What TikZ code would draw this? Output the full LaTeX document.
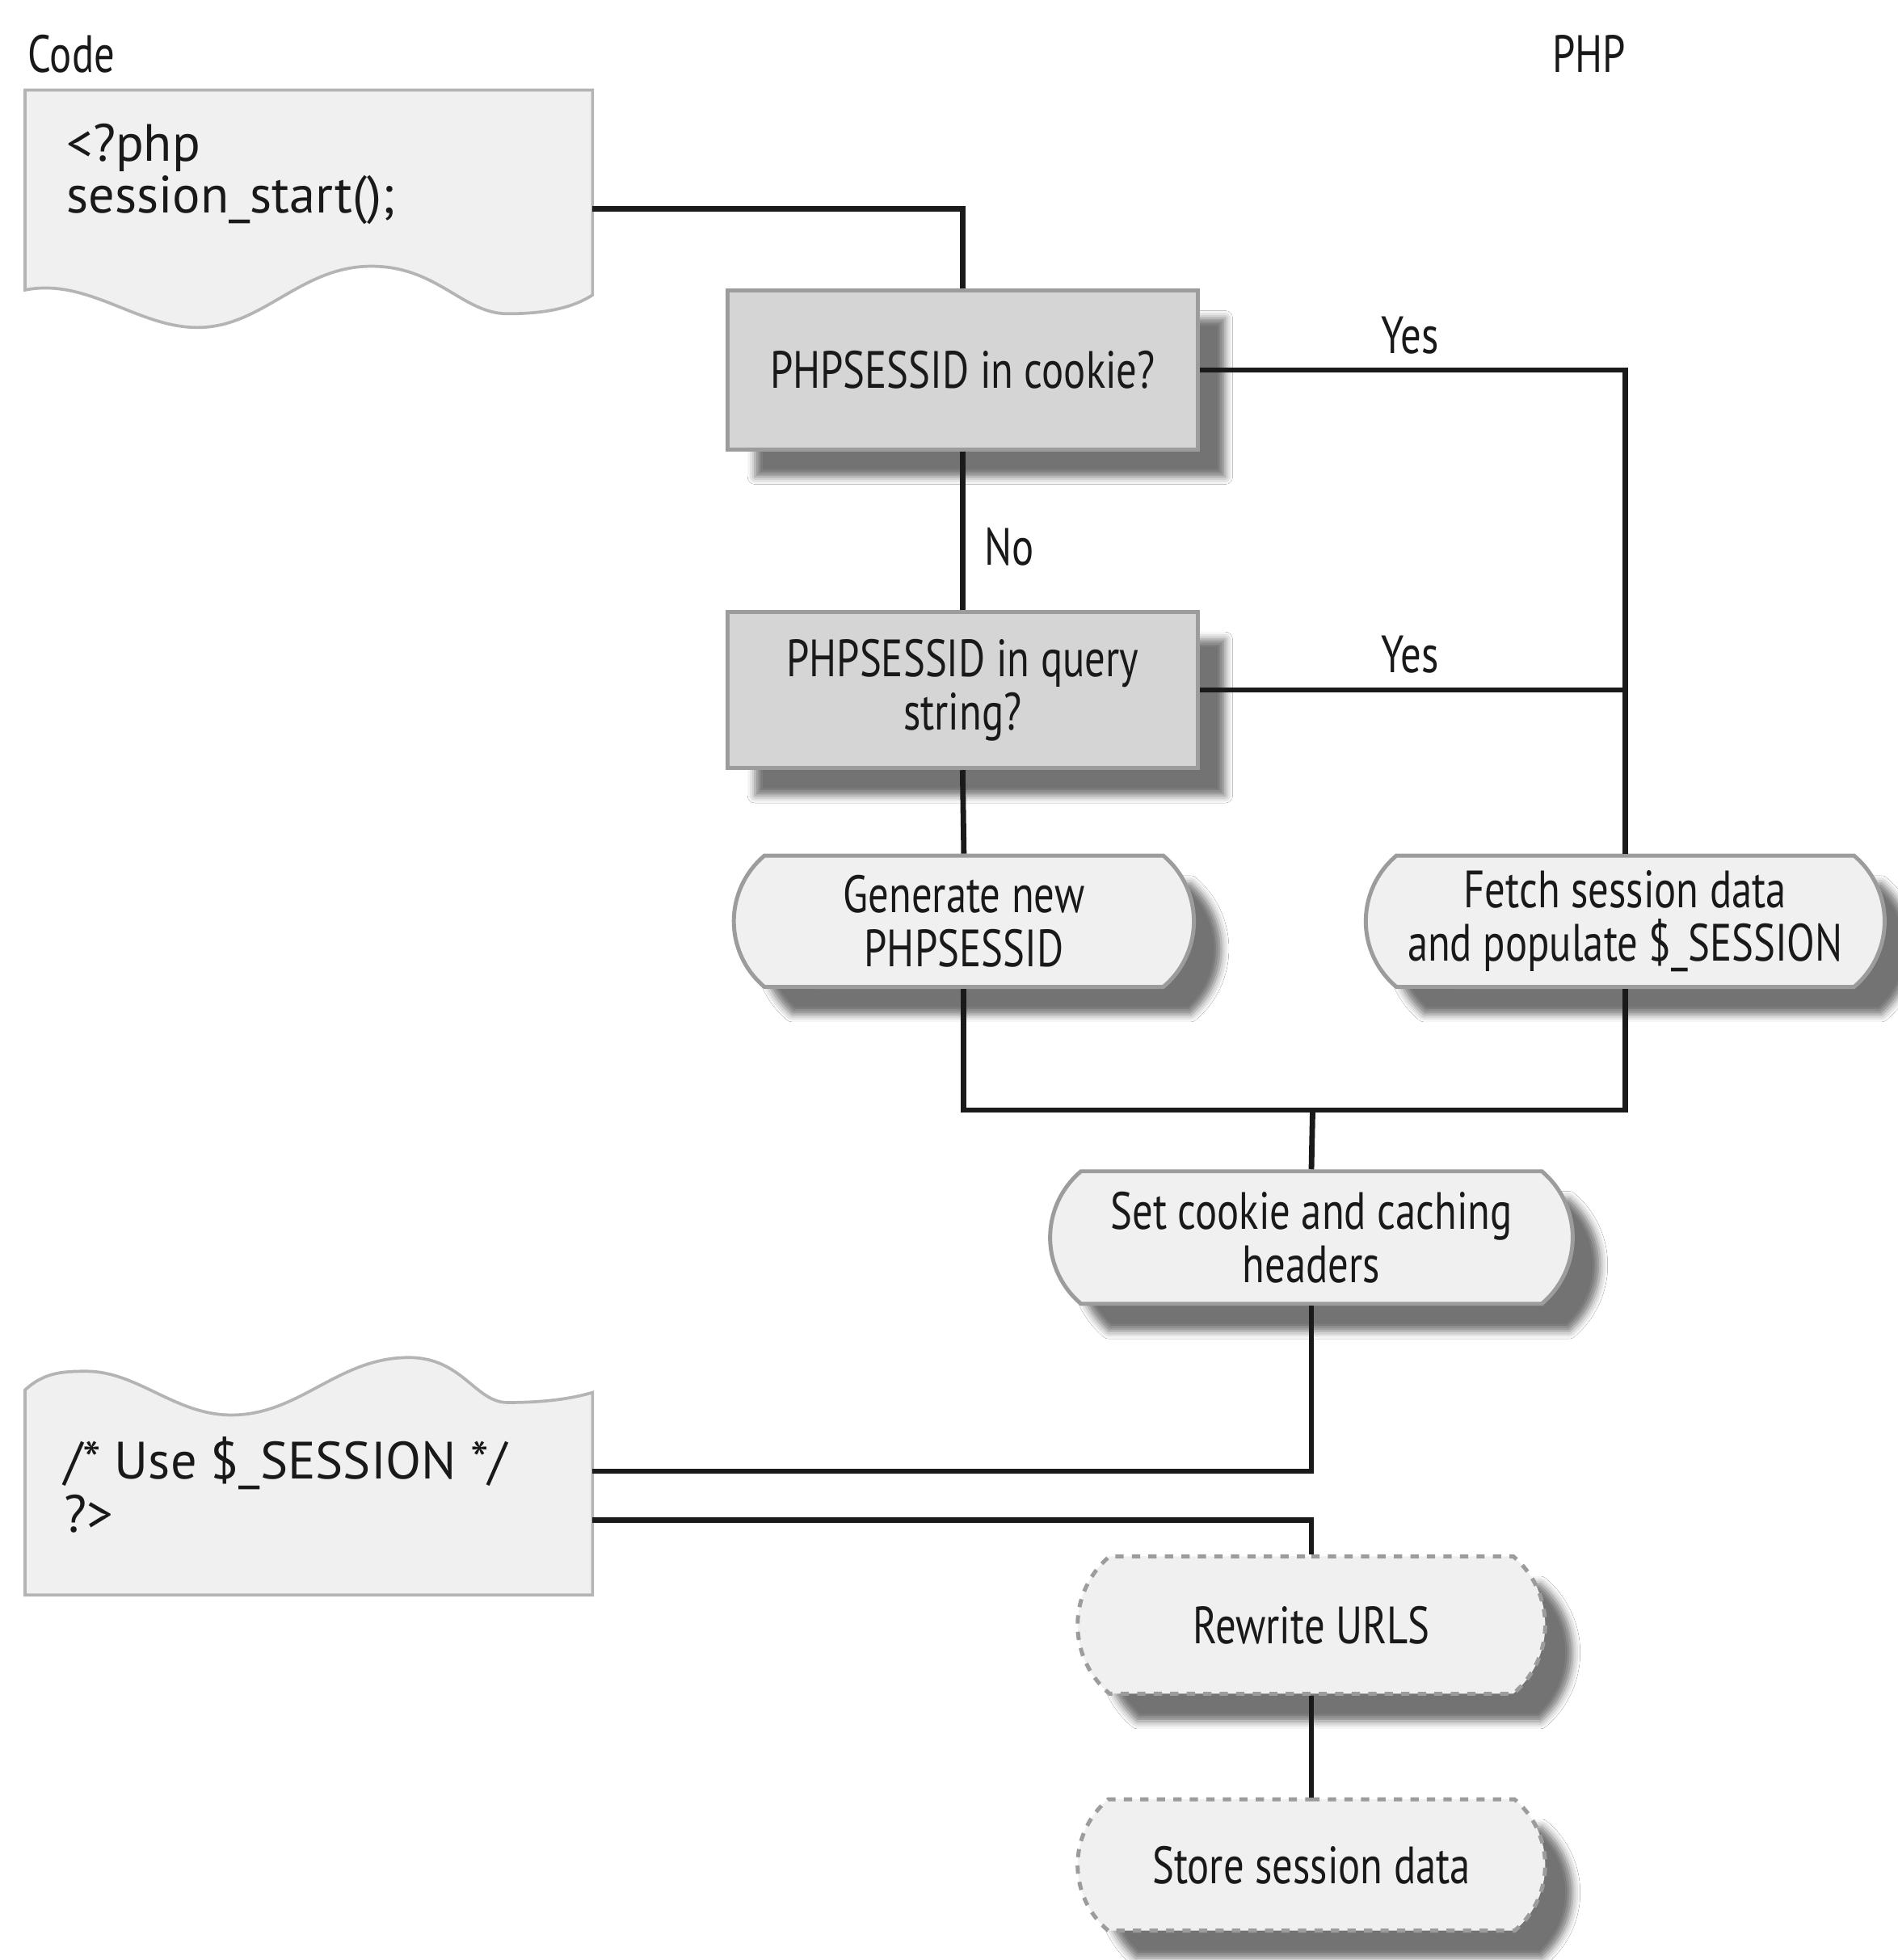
\documentclass[tikz,border=0pt]{standalone}
\usepackage{fontspec}
\setmainfont{PT Sans}
\newfontfamily\condfont{PT Sans}[FakeStretch=0.78]
\newfontfamily\codefont{PT Sans}[FakeStretch=0.99]
\usetikzlibrary{shapes.misc,shadows.blur}
\definecolor{decfill}{HTML}{D5D5D5}
\definecolor{lightfill}{HTML}{F0F0F0}
\definecolor{bordgray}{HTML}{9C9C9C}
\definecolor{codeborder}{HTML}{B4B4B4}
\definecolor{inkline}{HTML}{1A1A1A}
\tikzset{
  conn/.style={line width=2.2pt, draw=inkline},
  shad/.style={blur shadow={shadow xshift=11pt, shadow yshift=-11pt, shadow blur radius=3pt, shadow opacity=55}},
  nodetext/.style={font=\condfont\fontsize{21}{21.5}\selectfont, text=black!90},
  decision/.style={rectangle, draw=bordgray, line width=1.6pt, fill=decfill, inner sep=0pt, shad, align=center, nodetext},
  process/.style={rounded rectangle, rounded rectangle arc length=100, draw=bordgray, line width=1.6pt, fill=lightfill, inner sep=0pt, shad, align=center, nodetext},
  dprocess/.style={process, dash pattern=on 3.3pt off 3.3pt},
  lbl/.style={nodetext},
  codetext/.style={font=\codefont\fontsize{21}{21}\selectfont, text=black!90, inner sep=0pt},
  codebox/.style={draw=codeborder, line width=1.2pt, fill=lightfill}
}
\begin{document}
\begin{tikzpicture}[x=0.5pt,y=-0.5pt]
\useasboundingbox (0,0) rectangle (1518,1568);
\fill[white] (0,0) rectangle (1518,1568);

% titles
\node[lbl, anchor=base west, inner sep=0pt] (codelbl) at (22,58) {Code};
\node[lbl, anchor=base, inner sep=0pt] (phplbl) at (1271,58) {PHP};

% code box 1
\draw[codebox] (20,72) -- (474,72) -- (474,236)
  .. controls (460,245) and (440,251) .. (406,251)
  .. controls (370,251) and (350,213) .. (297,213)
  .. controls (240,213) and (210,262) .. (158,262)
  .. controls (110,262) and (70,222) .. (20,232) -- cycle;
\node[codetext, anchor=base west] (c1a) at (53,129) {<?php};
\node[codetext, anchor=base west] (c1b) at (53,170) {session\_start();};
\coordinate (c1out) at (474,167);

% code box 2
\draw[codebox] (20,1276) -- (20,1112)
  .. controls (35,1098) and (50,1097) .. (69,1097)
  .. controls (110,1097) and (140,1132) .. (185,1132)
  .. controls (240,1132) and (270,1086) .. (327,1086)
  .. controls (370,1086) and (380,1122) .. (406,1122)
  .. controls (440,1122) and (460,1118) .. (474,1114) -- (474,1276) -- cycle;
\node[codetext, anchor=base west] (c2a) at (51,1183) {/* Use \$\_SESSION */};
\node[codetext, anchor=base west] (c2b) at (51,1226) {?>};
\coordinate (c2in) at (474,1177);
\coordinate (c2out) at (474,1216);

% decisions
\node[decision, minimum width=188pt, minimum height=63.5pt] (dec1) at (770,296) {PHPSESSID in cookie?};
\node[decision, minimum width=188pt, minimum height=62.5pt] (dec2) at (770,552) {PHPSESSID in query\\string?};

% processes
\node[process, minimum width=184pt, minimum height=52.5pt] (gen) at (771,737) {Generate new\\PHPSESSID};
\node[process, minimum width=207.5pt, minimum height=52.5pt] (fetch) at (1300,737) {Fetch session data\\and populate \$\_SESSION};
\node[process, minimum width=209pt, minimum height=53pt] (setc) at (1049,990) {Set cookie and caching\\headers};
\node[dprocess, minimum width=187pt, minimum height=55pt] (rew) at (1049,1300) {Rewrite URLS};
\node[dprocess, minimum width=187pt, minimum height=52.5pt] (store) at (1049,1492) {Store session data};

% connectors
\coordinate (join) at (1050,888);
\draw[conn] (c1out) -| (dec1.north);
\draw[conn] (dec1.east) -| (fetch.north);
\draw[conn] (dec2.east) -- (dec2.east -| fetch.north);
\draw[conn] (dec1.south) -- (dec2.north);
\draw[conn] (dec2.south) -- (gen.north);
\draw[conn] (gen.south) |- (join) -| (fetch.south);
\draw[conn] (join) -- (setc.north);
\draw[conn] (setc.south) |- (c2in);
\draw[conn] (c2out) -| (rew.north);
\draw[conn] (rew.south) -- (store.north);

% labels
\node[lbl, anchor=base, inner sep=0pt] (yes1) at (1128,283) {Yes};
\node[lbl, anchor=base, inner sep=0pt] (yes2) at (1128,538) {Yes};
\node[lbl, anchor=base west, inner sep=0pt] (no1) at (787,452) {No};
\end{tikzpicture}
\end{document}
